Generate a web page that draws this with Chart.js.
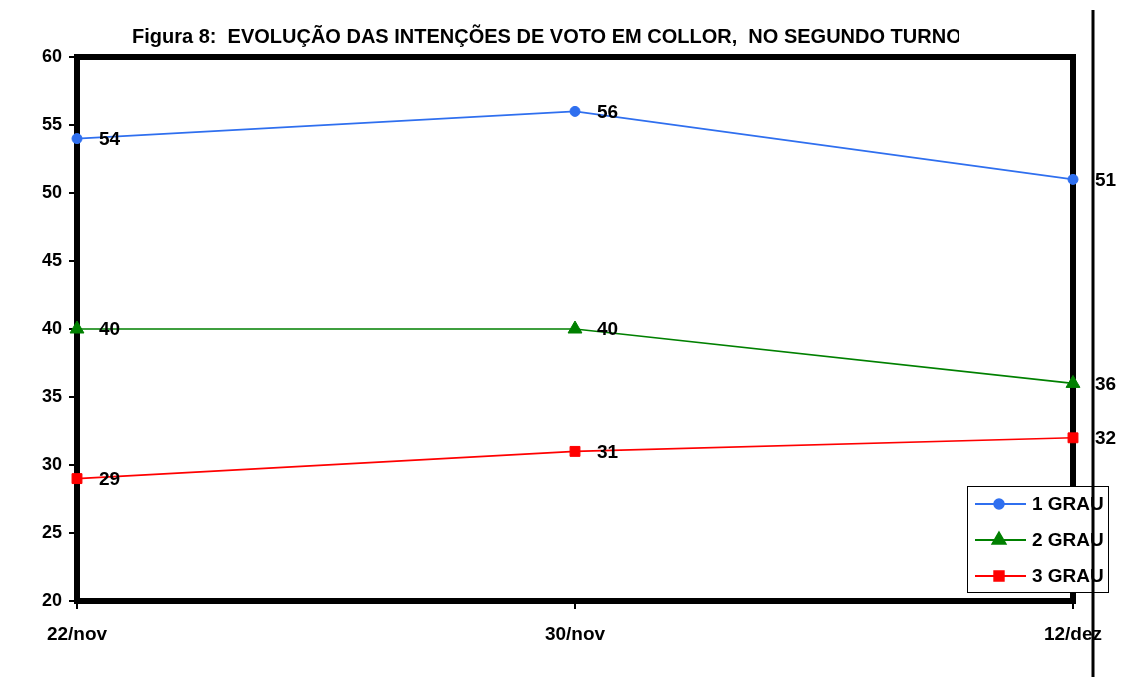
<!DOCTYPE html>
<html>
<head>
<meta charset="utf-8">
<script src="https://cdn.jsdelivr.net/npm/chart.js@4/dist/chart.umd.min.js"></script>
<style>
  html, body { margin: 0; padding: 0; background: #fff; }
  #wrap { width: 1130px; height: 677px; }
</style>
</head>
<body>
<div id="wrap"><canvas id="c" width="1130" height="677"></canvas></div>
<script>
// dados
const categorias = ['22/nov', '30/nov', '12/dez'];
const grau1 = [54, 56, 51];
const grau2 = [40, 40, 36];
const grau3 = [29, 31, 32];
const nomesSeries = ['1 GRAU', '2 GRAU', '3 GRAU'];
const yMin = 20, yMax = 60, yPasso = 5;
const titulo = 'Figura 8:  EVOLUÇÃO DAS INTENÇÕES DE VOTO EM COLLOR,  NO SEGUNDO TURNO';

const FONTE = '"Liberation Sans", Arial, sans-serif';

// moldura grossa em volta da área do gráfico
const molduraPlugin = {
    id: 'moldura',
    beforeDatasetsDraw(chart) {
        const { ctx, chartArea: a } = chart;
        ctx.save();
        ctx.strokeStyle = '#000';
        ctx.lineWidth = 6;
        ctx.lineJoin = 'miter';
        ctx.strokeRect(a.left, a.top, a.right - a.left, a.bottom - a.top);
        ctx.restore();
    }
};

// rótulos de valor ao lado de cada ponto
const rotulosPlugin = {
    id: 'rotulos',
    afterDatasetsDraw(chart) {
        const { ctx } = chart;
        ctx.save();
        ctx.font = 'bold 19px ' + FONTE;
        ctx.fillStyle = '#000';
        ctx.textAlign = 'left';
        ctx.textBaseline = 'middle';
        chart.data.datasets.forEach((ds, i) => {
            chart.getDatasetMeta(i).data.forEach((pt, j) => {
                ctx.fillText(String(ds.data[j]), pt.x + 22, pt.y + 1);
            });
        });
        ctx.restore();
    }
};

// título cortado no fim, legenda em caixa e linha vertical à direita
const extrasPlugin = {
    id: 'extras',
    afterDraw(chart) {
        const { ctx } = chart;
        ctx.save();
        // título
        ctx.beginPath();
        ctx.rect(0, 0, 959, 56);
        ctx.clip();
        ctx.font = 'bold 20px ' + FONTE;
        ctx.fillStyle = '#000';
        ctx.textAlign = 'left';
        ctx.textBaseline = 'alphabetic';
        ctx.fillText(titulo, 132, 43);
        ctx.restore();

        // legenda
        const lx = 967, ly = 486, lw = 141, lh = 106;
        ctx.save();
        ctx.fillStyle = '#fff';
        ctx.fillRect(lx, ly, lw, lh);
        ctx.strokeStyle = '#000';
        ctx.lineWidth = 1;
        ctx.strokeRect(lx + 0.5, ly + 0.5, lw, lh);
        chart.data.datasets.forEach((ds, i) => {
            const y = 504 + i * 36;
            ctx.strokeStyle = ds.borderColor;
            ctx.lineWidth = 2;
            ctx.beginPath();
            ctx.moveTo(975, y);
            ctx.lineTo(1026, y);
            ctx.stroke();
            ctx.fillStyle = ds.backgroundColor;
            ctx.strokeStyle = ds.borderColor;
            ctx.lineWidth = 1.5;
            Chart.helpers.drawPoint(ctx, {
                pointStyle: ds.pointStyle,
                radius: ds.pointRadius,
                borderWidth: 1.5,
                rotation: 0
            }, 999, y);
            ctx.fillStyle = '#000';
            ctx.font = 'bold 19px ' + FONTE;
            ctx.textAlign = 'left';
            ctx.textBaseline = 'middle';
            ctx.fillText(ds.label, 1032, y + 1);
        });
        ctx.restore();

        // linha vertical
        ctx.save();
        ctx.strokeStyle = '#000';
        ctx.lineWidth = 3;
        ctx.beginPath();
        ctx.moveTo(1093, 10);
        ctx.lineTo(1093, 677);
        ctx.stroke();
        ctx.restore();
    }
};

const serie = (label, data, cor, estilo, raio) => ({
    label, data,
    borderColor: cor,
    backgroundColor: cor,
    borderWidth: 1.6,
    pointStyle: estilo,
    pointRadius: raio,
    pointHoverRadius: raio,
    pointBorderWidth: 1,
    tension: 0,
    clip: false
});

new Chart(document.getElementById('c'), {
    type: 'line',
    data: {
        labels: categorias,
        datasets: [
            serie(nomesSeries[0], grau1, '#2f6fef', 'circle', 5),
            serie(nomesSeries[1], grau2, '#008000', 'triangle', 8),
            serie(nomesSeries[2], grau3, '#ff0000', 'rect', 7),
        ]
    },
    options: {
        responsive: false,
        animation: false,
        layout: { padding: { left: 0, right: 57, top: 57, bottom: 0 } },
        plugins: {
            legend: { display: false },
            title: { display: false },
            tooltip: { enabled: false }
        },
        scales: {
            x: {
                offset: false,
                afterFit(s) { s.height = 76; },
                grid: { drawOnChartArea: false, tickLength: 8, color: '#000', lineWidth: 2 },
                border: { display: false },
                ticks: { color: '#000', padding: 14, maxRotation: 0, font: { family: FONTE, size: 19, weight: 'bold' } }
            },
            y: {
                min: yMin, max: yMax,
                afterFit(s) { s.width = 77; },
                grid: { drawOnChartArea: false, tickLength: 8, color: '#000', lineWidth: 2 },
                border: { display: false },
                ticks: { stepSize: yPasso, color: '#000', padding: 7, font: { family: FONTE, size: 18, weight: 'bold' } }
            }
        }
    },
    plugins: [molduraPlugin, rotulosPlugin, extrasPlugin]
});
</script>
</body>
</html>
